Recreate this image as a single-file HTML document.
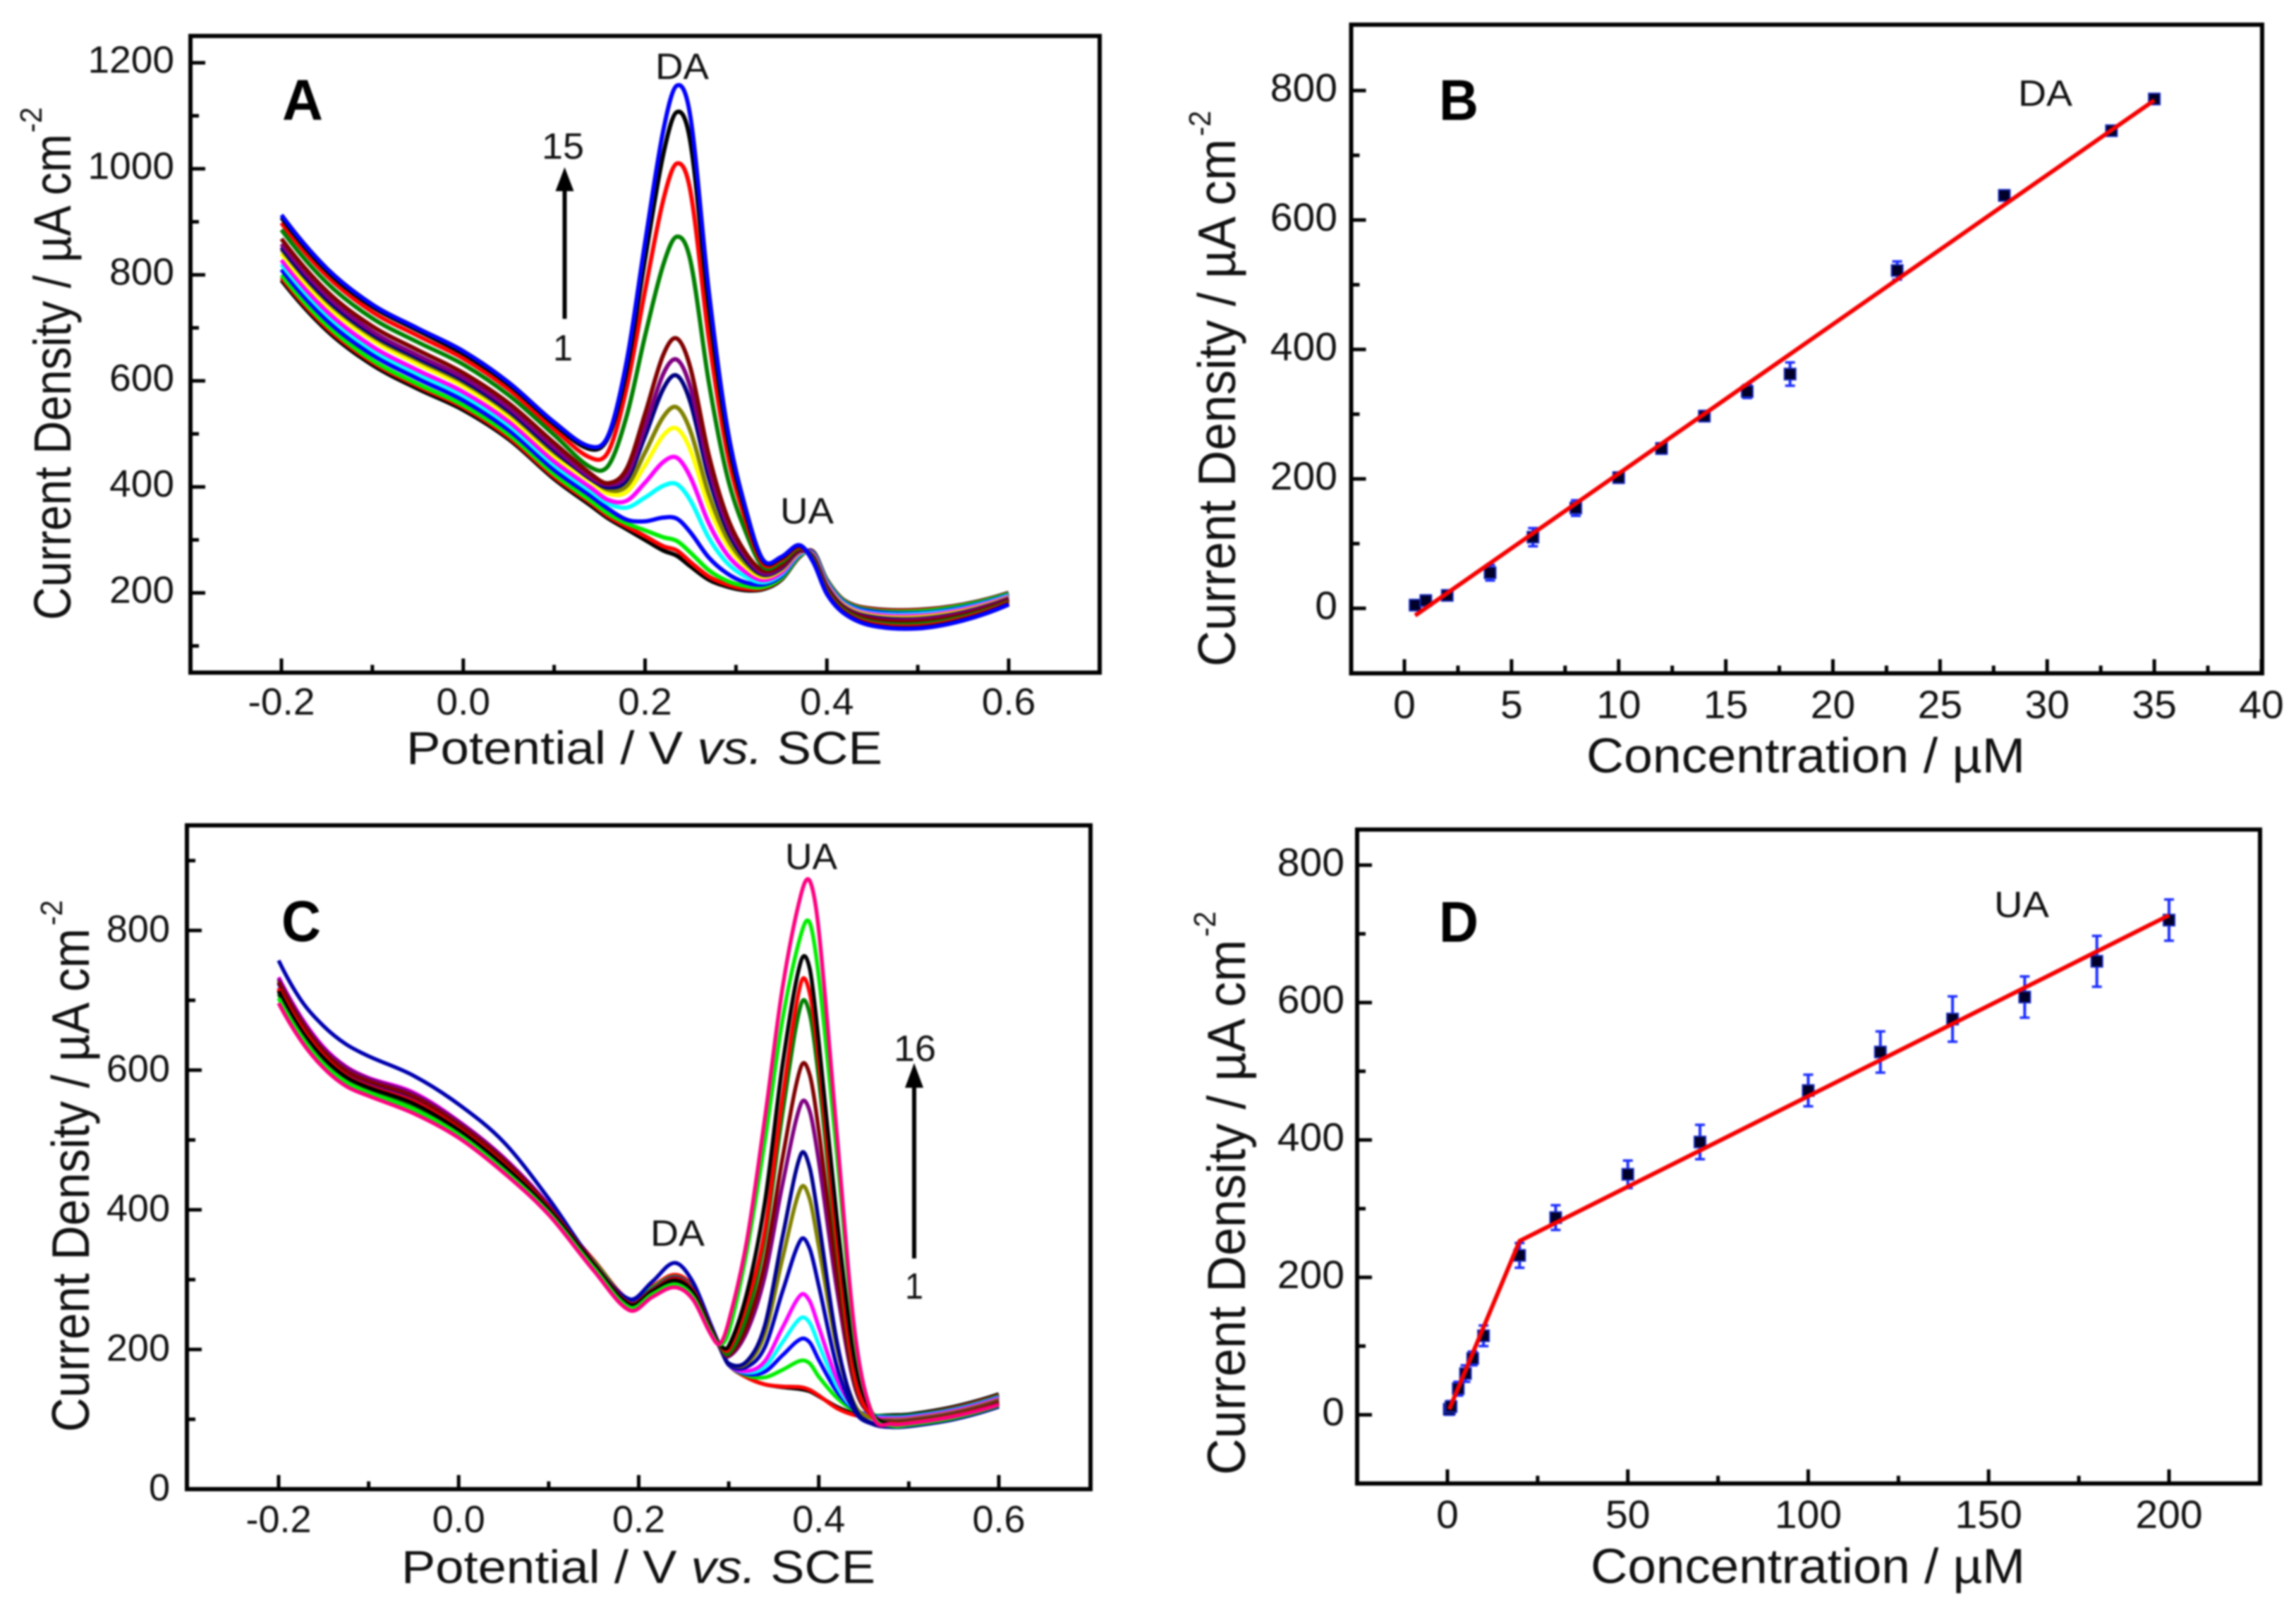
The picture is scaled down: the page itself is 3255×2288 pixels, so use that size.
<!DOCTYPE html>
<html lang="en">
<head>
<meta charset="utf-8">
<title>Current density of DA and UA: voltammograms and calibration plots</title>
<style>
html,body{margin:0;padding:0;background:#fff;}
#figure{display:block;width:3255px;height:2288px;filter:blur(1.2px);}
text{font-family:"Liberation Sans",Arial,sans-serif;fill:#111;}
.bold{font-weight:bold;fill:#000;}
</style>
</head>
<body>
<svg id="figure" xmlns="http://www.w3.org/2000/svg" width="3255" height="2288" viewBox="0 0 3255 2288">
<rect x="0" y="0" width="3255" height="2288" fill="#ffffff"/>
<g id="panel-a"></g>
<g id="panel-b"></g>
<g id="panel-c"></g>
<g id="panel-d"></g>

<!-- Panel A text -->
<text class="bold" x="400" y="170" font-size="82" textLength="58" lengthAdjust="spacingAndGlyphs">A</text>
<text transform="translate(100,879) rotate(-90)" font-size="74" textLength="689" lengthAdjust="spacingAndGlyphs">Current Density / µA cm</text>
<text transform="translate(59,188) rotate(-90)" font-size="44" textLength="36" lengthAdjust="spacingAndGlyphs">-2</text>
<text x="576" y="1083" font-size="66" textLength="675" lengthAdjust="spacingAndGlyphs">Potential / V <tspan font-style="italic">vs.</tspan> SCE</text>
<text x="929" y="112" font-size="52" textLength="76" lengthAdjust="spacingAndGlyphs">DA</text>
<text x="1106" y="742" font-size="52" textLength="76" lengthAdjust="spacingAndGlyphs">UA</text>
<text x="768" y="225" font-size="52" textLength="60" lengthAdjust="spacingAndGlyphs">15</text>
<text x="784" y="511" font-size="52" textLength="28" lengthAdjust="spacingAndGlyphs">1</text>
<g>
<line x1="800.5" y1="452" x2="800.5" y2="265" stroke="#000" stroke-width="6"/>
<polygon points="800.5,237 787.5,271 813.5,271" fill="#000"/>
</g>

<!-- Panel B text -->
<text class="bold" x="2040" y="170" font-size="82" textLength="56" lengthAdjust="spacingAndGlyphs">B</text>
<text transform="translate(1751,945) rotate(-90)" font-size="75" textLength="748" lengthAdjust="spacingAndGlyphs">Current Density / µA cm</text>
<text transform="translate(1716,193) rotate(-90)" font-size="44" textLength="36" lengthAdjust="spacingAndGlyphs">-2</text>
<text x="2249" y="1095" font-size="70" textLength="622" lengthAdjust="spacingAndGlyphs">Concentration / µM</text>
<text x="2861" y="150" font-size="52" textLength="77" lengthAdjust="spacingAndGlyphs">DA</text>

<!-- Panel C text -->
<text class="bold" x="399" y="1334" font-size="82" textLength="56" lengthAdjust="spacingAndGlyphs">C</text>
<text transform="translate(126,2030) rotate(-90)" font-size="75" textLength="714" lengthAdjust="spacingAndGlyphs">Current Density / µA cm</text>
<text transform="translate(88,1312) rotate(-90)" font-size="44" textLength="36" lengthAdjust="spacingAndGlyphs">-2</text>
<text x="569" y="2244" font-size="66" textLength="672" lengthAdjust="spacingAndGlyphs">Potential / V <tspan font-style="italic">vs.</tspan> SCE</text>
<text x="1113" y="1232" font-size="52" textLength="74" lengthAdjust="spacingAndGlyphs">UA</text>
<text x="922" y="1766" font-size="52" textLength="77" lengthAdjust="spacingAndGlyphs">DA</text>
<text x="1267" y="1504" font-size="52" textLength="60" lengthAdjust="spacingAndGlyphs">16</text>
<text x="1283" y="1841" font-size="52" textLength="26" lengthAdjust="spacingAndGlyphs">1</text>
<g>
<line x1="1296" y1="1784" x2="1296" y2="1535" stroke="#000" stroke-width="6"/>
<polygon points="1296,1507 1283,1542 1309,1542" fill="#000"/>
</g>

<!-- Panel D text -->
<text class="bold" x="2040" y="1335" font-size="82" textLength="56" lengthAdjust="spacingAndGlyphs">D</text>
<text transform="translate(1765,2091) rotate(-90)" font-size="76" textLength="759" lengthAdjust="spacingAndGlyphs">Current Density / µA cm</text>
<text transform="translate(1723,1328) rotate(-90)" font-size="44" textLength="36" lengthAdjust="spacingAndGlyphs">-2</text>
<text x="2255" y="2244" font-size="70" textLength="616" lengthAdjust="spacingAndGlyphs">Concentration / µM</text>
<text x="2827" y="1300" font-size="52" textLength="78" lengthAdjust="spacingAndGlyphs">UA</text>
</svg>

<script>
// ---------- Panel A data ----------
const potentialA = [-0.2,-0.15,-0.1,-0.05,0,0.05,0.1,0.14,0.16,0.18,0.2,0.22,0.235,0.25,0.27,0.29,0.31,0.33,0.35,0.37,0.385,0.4,0.42,0.45,0.5,0.55,0.6];
const curveA1  = [790,695,630,585,545,490,415,365,340,320,300,280,270,250,225,212,205,207,225,268,278,225,185,170,168,178,200];
const curveA2  = [795,700,635,590,550,494,419,370,344,325,307,288,280,258,231,216,208,209,227,269,277,224,184,169,167,177,199];
const curveA3  = [800,705,639,594,554,499,424,374,349,331,318,305,298,276,243,223,213,211,228,270,276,223,183,167,165,176,198];
const curveA4  = [810,714,649,604,563,507,432,383,358,338,335,342,340,314,267,237,220,216,232,272,275,221,181,165,162,173,196];
const curveA5  = [820,724,658,613,572,516,441,392,368,361,380,402,405,374,304,257,231,220,235,273,273,219,179,162,160,171,195];
const curveA6  = [828,731,665,620,579,523,448,399,375,374,408,447,455,418,332,273,240,224,238,275,272,217,177,160,157,169,193];
const curveA7  = [840,742,677,632,590,533,458,410,387,391,441,497,510,469,364,292,250,230,243,277,270,214,175,157,154,166,191];
const curveA8  = [848,750,684,639,597,540,465,417,394,402,465,532,550,505,387,304,257,233,245,278,269,212,173,155,152,164,190];
const curveA9  = [852,754,688,643,601,544,469,415,399,414,496,585,610,559,419,321,264,235,247,279,268,212,172,154,150,163,189];
const curveA10 = [858,760,693,648,606,549,474,418,404,422,513,613,640,587,436,330,270,237,249,280,267,210,171,152,149,162,188];
const curveA11 = [868,769,703,658,615,558,483,425,407,435,538,649,680,624,461,345,277,242,252,282,265,208,169,150,146,159,186];
const curveA12 = [885,785,718,673,631,573,498,437,441,535,685,819,872,826,599,423,318,249,258,285,263,204,166,145,141,155,183];
const curveA13 = [898,798,730,685,642,584,509,455,468,589,770,941,1010,957,682,468,340,255,263,287,260,201,163,142,137,152,181];
const curveA14 = [908,807,740,695,651,593,518,471,495,622,830,1027,1107,1049,741,499,355,260,266,289,259,199,161,139,134,149,179];
const curveA15 = [913,812,744,699,656,597,522,476,499,639,861,1072,1157,1097,771,516,363,262,268,290,258,198,160,138,133,148,178];
const seriesA = [curveA1,curveA2,curveA3,curveA4,curveA5,curveA6,curveA7,curveA8,curveA9,curveA10,curveA11,curveA12,curveA13,curveA14,curveA15];
const coloursA = ['#000000','#ff0000','#00ee00','#0000ff','#00ffff','#ff00ff','#ffff00','#808000','#000080','#800080','#800000','#008000','#ff0000','#000000','#0000ff'];
const xTickLabelsA = ['-0.2','0.0','0.2','0.4','0.6'];
const xTicksA = [-0.2,0,0.2,0.4,0.6];
const xMinorA = [-0.1,0.1,0.3,0.5];
const yTicksA = [200,400,600,800,1000,1200];
const yMinorA = [100,300,500,700,900,1100];

// ---------- Panel B data ----------
const concentrationB = [0.5,1,2,4,6,8,10,12,14,16,18,23,28,33,35];
const densityB = [5,12,20,55,110,155,202,247,297,335,362,522,638,738,787];
const errorB = [4,8,6,12,14,12,8,8,8,10,18,14,8,6,6];
const fitXB = [0.5,35];
const fitYB = [-11,785];
const xTicksB = [0,5,10,15,20,25,30,35,40];
const xMinorB = [2.5,7.5,12.5,17.5,22.5,27.5,32.5,37.5];
const yTicksB = [0,200,400,600,800];
const yMinorB = [100,300,500,700];

// ---------- Panel C data ----------
const potentialC = [-0.2,-0.175,-0.15,-0.125,-0.1,-0.05,0,0.05,0.1,0.15,0.19,0.215,0.24,0.26,0.28,0.29,0.3,0.32,0.34,0.36,0.38,0.39,0.4,0.42,0.44,0.46,0.48,0.5,0.55,0.6];
const curveC1  = [714,659,618,591,576,553,515,464,401,327,270,289,306,289,234,203,178,160,150,146,143,140,133,118,108,105,106,107,118,136];
const curveC2  = [718,662,621,594,579,556,517,466,402,328,271,290,307,290,235,203,178,160,150,147,146,142,134,116,106,103,104,105,116,134];
const curveC3  = [703,649,609,583,568,544,508,457,396,326,269,288,304,287,233,203,178,163,160,171,184,180,161,131,112,106,104,105,115,133];
const curveC4  = [724,668,625,598,583,560,521,470,404,324,267,286,303,286,232,203,178,165,168,192,215,210,185,140,114,105,103,104,114,132];
const curveC5  = [727,671,628,601,585,564,523,472,405,323,266,285,302,285,231,203,178,167,175,211,245,238,207,148,114,104,102,103,113,131];
const curveC6  = [733,676,633,605,589,568,527,475,407,322,265,284,301,284,230,203,178,169,183,232,278,269,232,158,115,103,101,102,112,130];
const curveC7  = [757,700,663,637,620,592,551,497,416,324,272,297,324,297,236,205,178,175,203,284,357,344,291,176,111,93,89,90,100,118];
const curveC8  = [729,673,630,602,586,565,525,473,405,322,265,284,299,282,230,203,180,180,222,332,431,415,347,203,121,101,99,100,110,128];
const curveC9  = [726,669,627,599,584,562,522,471,404,321,264,283,298,281,229,203,180,183,234,363,479,460,383,212,117,94,89,90,100,118];
const curveC10 = [731,674,631,604,588,566,526,474,406,320,263,282,297,280,228,204,190,225,304,438,551,541,469,287,147,104,97,98,108,126];
const curveC11 = [726,669,627,599,584,562,522,471,404,323,266,285,302,285,231,205,192,233,324,476,604,593,513,308,151,104,96,97,107,125];
const curveC12 = [709,654,614,587,572,548,511,461,398,318,261,280,295,278,226,206,194,248,358,540,693,680,587,345,159,104,95,96,106,124];
const curveC13 = [716,661,620,592,577,555,516,465,401,322,265,284,301,284,230,207,200,265,370,563,724,710,613,358,162,103,94,95,105,123];
const curveC14 = [713,657,617,590,575,552,514,463,400,321,264,283,299,282,229,207,205,280,410,610,755,745,640,389,184,108,93,94,104,122];
const curveC15 = [703,649,609,583,568,544,508,457,396,317,260,279,293,276,225,207,225,340,497,674,793,811,733,480,215,107,91,92,102,120];
const curveC16 = [696,642,603,577,563,538,503,453,393,313,256,275,289,272,222,208,240,355,530,720,850,871,800,510,225,105,93,94,104,121];
const seriesC = [curveC1,curveC2,curveC3,curveC4,curveC5,curveC6,curveC7,curveC8,curveC9,curveC10,curveC11,curveC12,curveC13,curveC14,curveC15,curveC16];
const coloursC = ['#000000','#ff0000','#00ee00','#0000ff','#00ffff','#ff00ff','#0000b0','#808000','#000090','#800080','#800000','#008000','#ff0000','#000000','#00ee00','#ff0080'];
const xTickLabelsC = ['-0.2','0.0','0.2','0.4','0.6'];
const xTicksC = [-0.2,0,0.2,0.4,0.6];
const xMinorC = [-0.1,0.1,0.3,0.5];
const yTicksC = [0,200,400,600,800];
const yMinorC = [100,300,500,700,900];

// ---------- Panel D data ----------
const concentrationD = [0.5,1,3,5,7,10,20,30,50,70,100,120,140,160,180,200];
const densityD = [8,12,38,60,82,115,232,287,350,397,472,528,576,608,660,720];
const errorD = [8,8,10,12,10,15,18,18,20,25,23,30,33,30,37,30];
const fitXD = [0.5,20,200];
const fitYD = [8,253,727];
const xTicksD = [0,50,100,150,200];
const xMinorD = [25,75,125,175];
const yTicksD = [0,200,400,600,800];
const yMinorD = [100,300,500,700];

// ---------- Drawing helpers ----------
const NS = 'http://www.w3.org/2000/svg';

function scale(d0, d1, r0, r1) {
  return function (v) { return r0 + (v - d0) * (r1 - r0) / (d1 - d0); };
}

function addLine(parent, x1, y1, x2, y2, stroke, width, name) {
  const el = document.createElementNS(NS, 'line');
  el.setAttribute('x1', x1);
  el.setAttribute('y1', y1);
  el.setAttribute('x2', x2);
  el.setAttribute('y2', y2);
  el.setAttribute('stroke', stroke);
  el.setAttribute('stroke-width', width);
  
  
  parent.appendChild(el);
  return el;
}

function addLabel(parent, x, y, str, anchor, size, stretch, name) {
  const el = document.createElementNS(NS, 'text');
  el.setAttribute('transform', 'translate(' + x + ',' + y + ') scale(' + stretch + ',1)');
  el.setAttribute('text-anchor', anchor);
  el.setAttribute('font-size', size);
  
  
  el.textContent = str;
  parent.appendChild(el);
  return el;
}

function smoothPath(xs, ys) {
  const n = xs.length;
  const m = xs.map(function (_, i) {
    if (i === 0 || i === n - 1) { return 0; }
    return (ys[i + 1] - ys[i - 1]) / (xs[i + 1] - xs[i - 1]);
  });
  m[0] = 2 * (ys[1] - ys[0]) / (xs[1] - xs[0]) - m[1];
  m[n - 1] = 2 * (ys[n - 1] - ys[n - 2]) / (xs[n - 1] - xs[n - 2]) - m[n - 2];
  let d = 'M' + xs[0].toFixed(1) + ' ' + ys[0].toFixed(1);
  for (let i = 0; i < n - 1; i++) {
    const dx = (xs[i + 1] - xs[i]) / 3;
    d += 'C' + (xs[i] + dx).toFixed(1) + ' ' + (ys[i] + m[i] * dx).toFixed(1) + ' ' +
         (xs[i + 1] - dx).toFixed(1) + ' ' + (ys[i + 1] - m[i + 1] * dx).toFixed(1) + ' ' +
         xs[i + 1].toFixed(1) + ' ' + ys[i + 1].toFixed(1);
  }
  return d;
}

function drawAxes(parent, p, sx, sy) {
  const frame = document.createElementNS(NS, 'rect');
  frame.setAttribute('x', p.left);
  frame.setAttribute('y', p.top);
  frame.setAttribute('width', p.right - p.left);
  frame.setAttribute('height', p.bottom - p.top);
  frame.setAttribute('fill', 'none');
  frame.setAttribute('stroke', '#000');
  frame.setAttribute('stroke-width', 6);
  
  
  parent.appendChild(frame);

  p.xTicks.forEach(function (t, i) {
    const px = sx(t);
    addLine(parent, px, p.bottom, px, p.bottom - 20, '#000', 5, p.id + '-x-tick');
    addLabel(parent, px, p.xLabelY, p.xLabels ? p.xLabels[i] : String(t), 'middle', p.fontSize, p.stretch, p.id + '-x-tick-label');
  });
  p.xMinor.forEach(function (t) {
    addLine(parent, sx(t), p.bottom, sx(t), p.bottom - 11, '#000', 5, p.id + '-x-minor-tick');
  });
  p.yTicks.forEach(function (t) {
    const py = sy(t);
    addLine(parent, p.left, py, p.left + 21, py, '#000', 5, p.id + '-y-tick');
    addLabel(parent, p.yLabelX, py + p.labelDrop, String(t), 'end', p.fontSize, p.stretch, p.id + '-y-tick-label');
  });
  p.yMinor.forEach(function (t) {
    addLine(parent, p.left, sy(t), p.left + 12, sy(t), '#000', 5, p.id + '-y-minor-tick');
  });
}

function drawCurves(parent, id, potentials, series, colours, sx, sy, width) {
  const xs = potentials.map(sx);
  series.forEach(function (values, i) {
    const path = document.createElementNS(NS, 'path');
    path.setAttribute('d', smoothPath(xs, values.map(sy)));
    path.setAttribute('fill', 'none');
    path.setAttribute('stroke', colours[i]);
    path.setAttribute('stroke-width', width);
    path.setAttribute('stroke-linejoin', 'round');
    
    
    parent.appendChild(path);
  });
}

function drawCalibration(parent, id, xsData, ysData, errs, fitX, fitY, sx, sy) {
  xsData.forEach(function (x, i) {
    const px = sx(x);
    const hi = sy(ysData[i] + errs[i]);
    const lo = sy(ysData[i] - errs[i]);
    addLine(parent, px, hi, px, lo, '#1a2cff', 4, id + '-error-bar');
    addLine(parent, px - 7, hi, px + 7, hi, '#1a2cff', 3.5, id + '-error-cap-top');
    addLine(parent, px - 7, lo, px + 7, lo, '#1a2cff', 3.5, id + '-error-cap-bottom');
  });
  xsData.forEach(function (x, i) {
    const m = document.createElementNS(NS, 'rect');
    m.setAttribute('x', sx(x) - 8);
    m.setAttribute('y', sy(ysData[i]) - 8);
    m.setAttribute('width', 16);
    m.setAttribute('height', 16);
    m.setAttribute('fill', '#000028');
    m.setAttribute('stroke', '#1a2cc0');
    m.setAttribute('stroke-width', 2);
    
    
    parent.appendChild(m);
  });
  const fit = document.createElementNS(NS, 'polyline');
  fit.setAttribute('points', fitX.map(function (x, i) { return sx(x).toFixed(1) + ',' + sy(fitY[i]).toFixed(1); }).join(' '));
  fit.setAttribute('fill', 'none');
  fit.setAttribute('stroke', '#f50000');
  fit.setAttribute('stroke-width', 6);
  fit.setAttribute('stroke-linejoin', 'round');
  
  
  parent.appendChild(fit);
}

// ---------- Panel A ----------
(function () {
  const g = document.getElementById('panel-a');
  const sx = scale(-0.2, 0.6, 399, 1430);
  const sy = scale(200, 1200, 840.5, 89);
  drawCurves(g, 'panel-a', potentialA, seriesA, coloursA, sx, sy, 6);
  drawAxes(g, { id: 'panel-a', left: 270, right: 1559, top: 51, bottom: 953.5, xTicks: xTicksA, xLabels: xTickLabelsA, xMinor: xMinorA, yTicks: yTicksA, yMinor: yMinorA, xLabelY: 1013, yLabelX: 247, labelDrop: 14, fontSize: 54, stretch: 1.02 }, sx, sy);
})();

// ---------- Panel B ----------
(function () {
  const g = document.getElementById('panel-b');
  const sx = scale(0, 40, 1991, 3206);
  const sy = scale(0, 800, 862.4, 128.4);
  drawCalibration(g, 'panel-b', concentrationB, densityB, errorB, fitXB, fitYB, sx, sy);
  drawAxes(g, { id: 'panel-b', left: 1915.5, right: 3207, top: 35, bottom: 954.5, xTicks: xTicksB, xMinor: xMinorB, yTicks: yTicksB, yMinor: yMinorB, xLabelY: 1018, yLabelX: 1896, labelDrop: 15, fontSize: 56, stretch: 1.02 }, sx, sy);
})();

// ---------- Panel C ----------
(function () {
  const g = document.getElementById('panel-c');
  const sx = scale(-0.2, 0.6, 395, 1416);
  const sy = scale(0, 800, 2111, 1319);
  drawCurves(g, 'panel-c', potentialC, seriesC, coloursC, sx, sy, 5.5);
  drawAxes(g, { id: 'panel-c', left: 265, right: 1546, top: 1170, bottom: 2111, xTicks: xTicksC, xLabels: xTickLabelsC, xMinor: xMinorC, yTicks: yTicksC, yMinor: yMinorC, xLabelY: 2172, yLabelX: 241, labelDrop: 16, fontSize: 54, stretch: 1.0 }, sx, sy);
})();

// ---------- Panel D ----------
(function () {
  const g = document.getElementById('panel-d');
  const sx = scale(0, 200, 2052, 3075);
  const sy = scale(0, 800, 2005.6, 1226.4);
  drawCalibration(g, 'panel-d', concentrationD, densityD, errorD, fitXD, fitYD, sx, sy);
  drawAxes(g, { id: 'panel-d', left: 1924, right: 3204, top: 1176, bottom: 2103, xTicks: xTicksD, xMinor: xMinorD, yTicks: yTicksD, yMinor: yMinorD, xLabelY: 2166, yLabelX: 1906, labelDrop: 15, fontSize: 56, stretch: 1.02 }, sx, sy);
})();
</script>
</body>
</html>
